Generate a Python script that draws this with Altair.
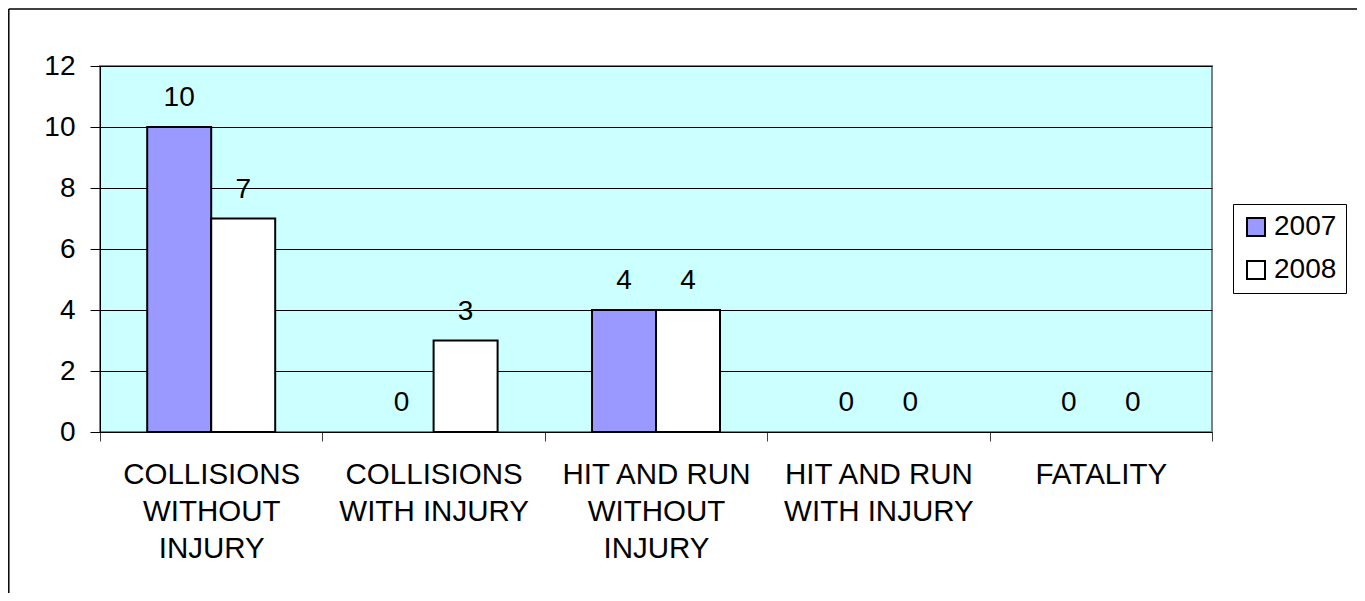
import altair as alt
import pandas as pd

categories = [
    "COLLISIONS\nWITHOUT\nINJURY",
    "COLLISIONS\nWITH INJURY",
    "HIT AND RUN\nWITHOUT\nINJURY",
    "HIT AND RUN\nWITH INJURY",
    "FATALITY",
]
years = ["2007", "2008"]
values_2007 = [10, 0, 4, 0, 0]
values_2008 = [7, 3, 4, 0, 0]
y_ticks = [0, 2, 4, 6, 8, 10, 12]
colors = ["#9999FF", "#FFFFFF"]

rows = []
for c, v in zip(categories, values_2007):
    rows.append({"category": c, "year": "2007", "value": v})
for c, v in zip(categories, values_2008):
    rows.append({"category": c, "year": "2008", "value": v})
df = pd.DataFrame(rows)

FONT = "Liberation Sans"
W, H = 1112, 366

x_enc = alt.X(
    "category:N",
    sort=categories,
    scale=alt.Scale(paddingInner=0, paddingOuter=0),
    axis=alt.Axis(
        title=None,
        labelAngle=0,
        labelExpr="split(datum.label, '\\n')",
        labelFontSize=29.5,
        labelFont=FONT,
        labelColor="#000000",
        labelLineHeight=37,
        labelBaseline="top",
        labelPadding=19,
        tickBand="extent",
        tickSize=9,
        tickColor="#404040",
        domainColor="#000000",
        grid=False,
        labelLimit=400,
    ),
)
xoff_enc = alt.XOffset(
    "year:N",
    sort=years,
    scale=alt.Scale(paddingInner=0, paddingOuter=0.7375),
)
y_enc = alt.Y(
    "value:Q",
    scale=alt.Scale(domain=[0, 12], nice=False),
    axis=alt.Axis(
        title=None,
        values=y_ticks,
        labelFontSize=28,
        labelFont=FONT,
        labelColor="#000000",
        labelPadding=15,
        tickSize=10,
        tickColor="#000000",
        domainColor="#000000",
        gridColor="#000000",
        gridWidth=1,
    ),
)

bars = alt.Chart(df).transform_filter("datum.value > 0").mark_bar(
    stroke="#000000", strokeWidth=2
).encode(
    x=x_enc,
    xOffset=xoff_enc,
    y=y_enc,
    fill=alt.Fill(
        "year:N",
        sort=years,
        scale=alt.Scale(domain=years, range=colors),
        legend=alt.Legend(
            title=None,
            orient="none",
            legendX=1133,
            legendY=138,
            symbolType="square",
            symbolSize=324,
            symbolStrokeColor="#000000",
            symbolStrokeWidth=2,
            labelFontSize=28,
            labelFont=FONT,
            labelColor="#000000",
            labelOffset=4,
            rowPadding=15,
            padding=9,
            strokeColor="#000000",
            fillColor="#FFFFFF",
        ),
    ),
)

labels = alt.Chart(df).mark_text(
    fontSize=28, font=FONT, color="#000000", baseline="alphabetic", dy=-21
).encode(
    x=alt.X("category:N", sort=categories),
    xOffset=alt.XOffset("year:N", sort=years),
    y=alt.Y("value:Q"),
    text=alt.Text("value:Q"),
)

frame_df = pd.DataFrame({"k": [0]})
frame_left = alt.Chart(frame_df).mark_rule(color="#000000", strokeWidth=1.5).encode(
    x=alt.value(-91.2), y=alt.value(-57), y2=alt.value(H + 161)
)
frame_top = alt.Chart(frame_df).mark_rule(color="#000000", strokeWidth=1.5).encode(
    x=alt.value(-91.2), x2=alt.value(W + 145), y=alt.value(-57)
)

chart = (
    alt.layer(bars, labels, frame_left, frame_top)
    .properties(
        width=W,
        height=H,
        autosize=alt.AutoSizeParams(type="none"),
        padding={"left": 92, "top": 58, "right": 145, "bottom": 161},
        background="#FFFFFF",
    )
    .configure_view(fill="#CCFFFF", stroke="#808080", strokeWidth=2)
)

chart.save("out.html", embed_options={"renderer": "svg", "actions": False})
